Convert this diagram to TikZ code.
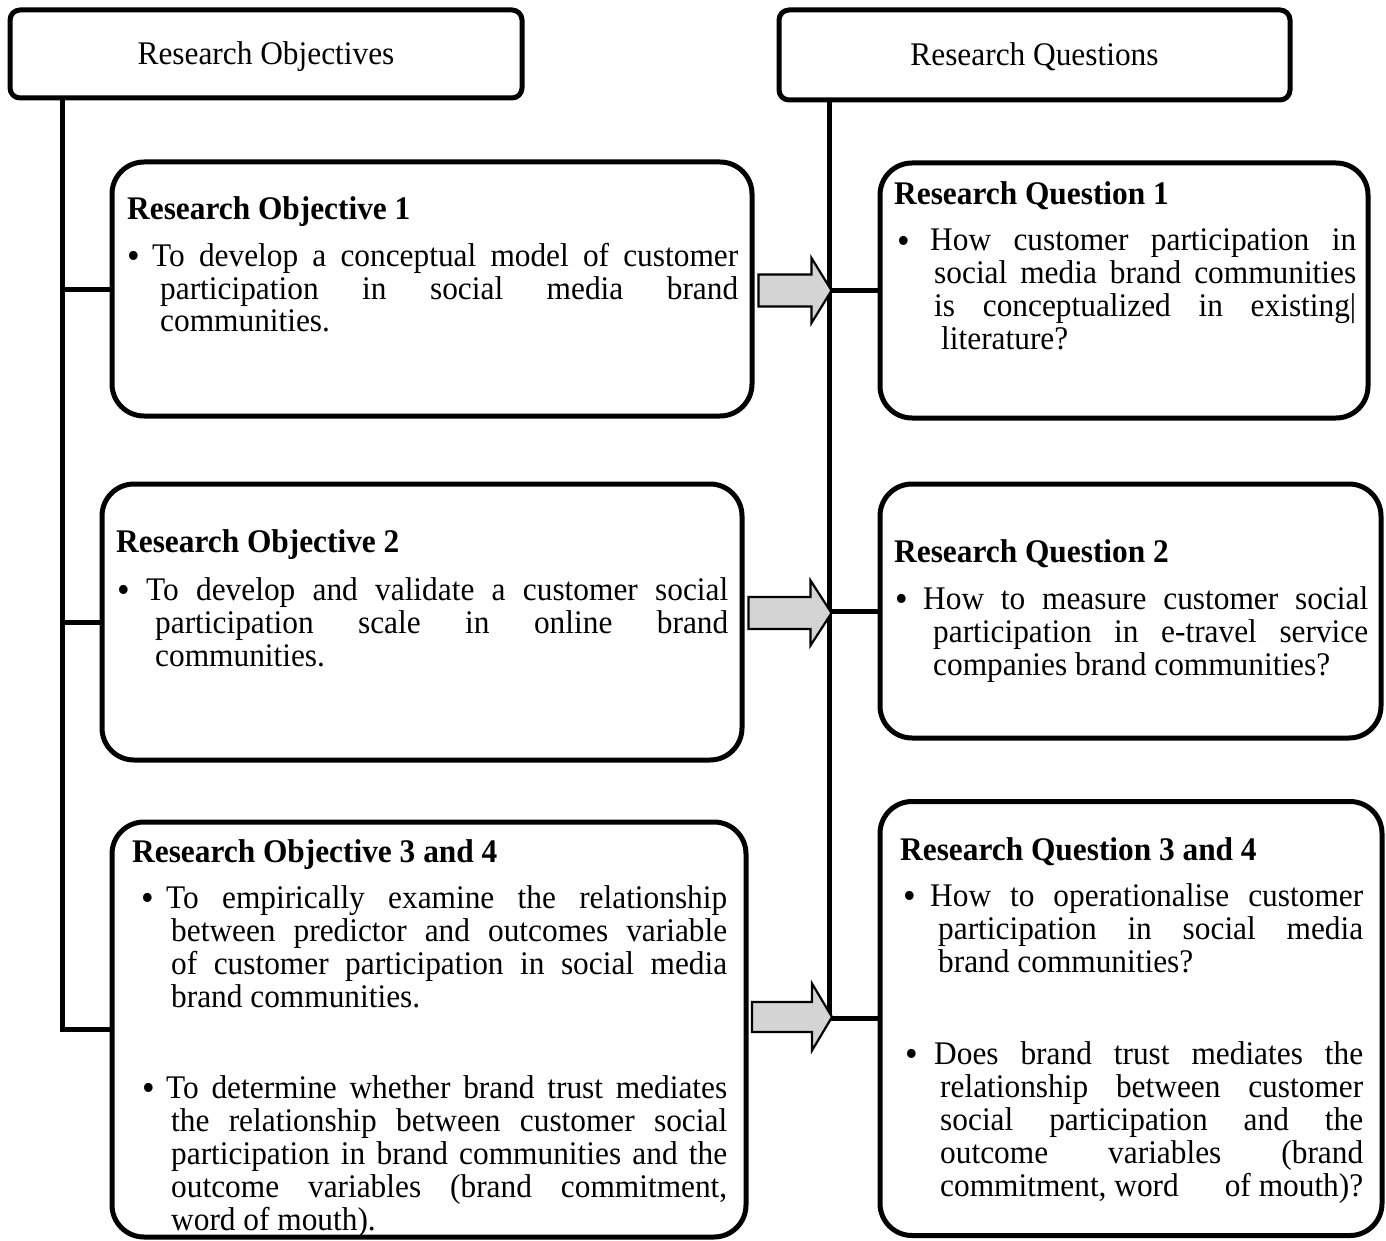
\documentclass[tikz,border=0pt]{standalone}
\usepackage{fontspec}
\setmainfont{Liberation Serif}[FakeStretch=0.95]
\usetikzlibrary{calc}

% one justified line of a given width
\newcommand\jus[2]{\makebox[#1][s]{#2}}
% bullet followed by the gap up to the text
\newcommand\bul[1]{\makebox[#1][l]{\raisebox{-2.5pt}{\scalebox{1.15}{\textbullet}}}}
% indentation of a continuation line
\newcommand\ind[1]{\hspace*{#1}}
% stacked lines with a fixed line pitch; the node's baseline is the first line's
\newcommand\lines[1]{\vtop{\baselineskip=33pt\lineskiplimit=-100pt #1}}
% text moved down without changing its box
\newcommand\dropby[2]{\raisebox{-#1}[\height][\depth]{#2}}

\begin{document}
\begin{tikzpicture}[x=1pt,y=-1pt,
  font=\fontsize{33}{33}\selectfont,
  headbox/.style={draw, line width=5pt, rounded corners=10pt, inner sep=0pt},
  itembox/.style={draw, line width=5pt, rounded corners=32pt, inner sep=0pt},
  wire/.style={line width=5pt, line join=miter},
  txt/.style={inner sep=0pt, anchor=base west},
  arrowshape/.style={draw, line width=2.2pt, fill=black!17, line join=miter}]

\useasboundingbox (0,0) rectangle (1386,1241);

% header boxes
\node[headbox, minimum width=512pt, minimum height=88pt] (rotop) at (266,54) {\dropby{3pt}{Research Objectives}};
\node[headbox, minimum width=511pt, minimum height=90pt] (rqtop) at (1034.5,55) {\dropby{2pt}{Research Questions}};

% objective boxes
\node[itembox, minimum width=640pt, minimum height=254pt] (ro1) at (432,289) {};
\node[itembox, minimum width=640pt, minimum height=276pt] (ro2) at (422,622) {};
\node[itembox, minimum width=634pt, minimum height=415pt] (ro3) at (429,1029.5) {};

% question boxes
\node[itembox, minimum width=488pt, minimum height=255pt] (rq1) at (1124,290.5) {};
\node[itembox, minimum width=501pt, minimum height=254pt] (rq2) at (1130.5,611) {};
\node[itembox, minimum width=502pt, minimum height=434pt] (rq3) at (1131,1018.5) {};

% spines and branches
\coordinate (lsp) at (62,0);
\coordinate (rsp) at (829,0);
\draw[wire] (lsp |- rotop.south) -- (lsp |- ro3.west) -- (ro3.west);
\draw[wire] (lsp |- ro1.west) -- (ro1.west);
\draw[wire] (lsp |- ro2.west) -- (ro2.west);
\draw[wire] (rsp |- rqtop.south) -- (rsp |- rq3.west) -- (rq3.west);
\draw[wire] (rsp |- rq1.west) -- (rq1.west);
\draw[wire] (rsp |- rq2.west) -- (rq2.west);

% block arrows from objectives to questions
\coordinate (tip1) at ($(rsp |- rq1.west)+(2.5,0)$);
\coordinate (tip2) at ($(rsp |- rq2.west)+(2.5,2)$);
\coordinate (tip3) at ($(rsp |- rq3.west)+(3,-1.5)$);
\draw[arrowshape] (tip1) -- ++(-20,-32.5) -- ++(0,16.5) -- ++(-53,0) -- ++(0,32) -- ++(53,0) -- ++(0,16.5) -- cycle;
\draw[arrowshape] (tip2) -- ++(-21,-32.5) -- ++(0,16.5) -- ++(-62,0) -- ++(0,32) -- ++(62,0) -- ++(0,16.5) -- cycle;
\draw[arrowshape] (tip3) -- ++(-20,-33.5) -- ++(0,18.5) -- ++(-60,0) -- ++(0,30) -- ++(60,0) -- ++(0,18.5) -- cycle;

% objective texts
\node[txt] (ro1t) at (127,220) {\bfseries Research Objective 1};
\node[txt] (ro1a) at (127,266) {\lines{%
  \hbox{\bul{25pt}\jus{586pt}{To develop a conceptual model of customer}}
  \hbox{\ind{33pt}\jus{578pt}{participation in social media brand}}
  \hbox{\ind{33pt}communities.}}};

\node[txt] (ro2t) at (116,552) {\bfseries Research Objective 2};
\node[txt] (ro2a) at (117,600) {\lines{%
  \hbox{\bul{29pt}\jus{582pt}{To develop and validate a customer social}}
  \hbox{\ind{38pt}\jus{573pt}{participation scale in online brand}}
  \hbox{\ind{38pt}communities.}}};

\node[txt] (ro3t) at (132,862) {\bfseries Research Objective 3 and 4};
\node[txt] (ro3a) at (141,908) {\lines{%
  \hbox{\bul{25pt}\jus{561pt}{To empirically examine the relationship}}
  \hbox{\ind{30pt}\jus{556pt}{between predictor and outcomes variable}}
  \hbox{\ind{30pt}\jus{556pt}{of customer participation in social media}}
  \hbox{\ind{30pt}brand communities.}}};
\node[txt] (ro3b) at (142,1098) {\lines{%
  \hbox{\bul{24pt}\jus{561pt}{To determine whether brand trust mediates}}
  \hbox{\ind{29pt}\jus{556pt}{the relationship between customer social}}
  \hbox{\ind{29pt}\jus{556pt}{participation in brand communities and the}}
  \hbox{\ind{29pt}\jus{556pt}{outcome variables (brand commitment,}}
  \hbox{\ind{29pt}word of mouth).}}};

% question texts
\node[txt] (rq1t) at (894,205) {\bfseries Research Question 1};
\node[txt] (rq1a) at (897,251) {\lines{%
  \hbox{\bul{33pt}\jus{426pt}{How customer participation in}}
  \hbox{\ind{37pt}\jus{422pt}{social media brand communities}}
  \hbox{\ind{37pt}\jus{422pt}{is conceptualized in existing|}}
  \hbox{\ind{44pt}literature?}}};

\node[txt] (rq2t) at (894,562) {\bfseries Research Question 2};
\node[txt] (rq2a) at (895,609) {\lines{%
  \hbox{\bul{28pt}\jus{445pt}{How to measure customer social}}
  \hbox{\ind{38pt}\jus{435pt}{participation in e-travel service}}
  \hbox{\ind{38pt}companies brand communities?}}};

\node[txt] (rq3t) at (900,860) {\bfseries Research Question 3 and 4};
\node[txt] (rq3a) at (903,906) {\lines{%
  \hbox{\bul{27pt}\jus{433pt}{How to operationalise customer}}
  \hbox{\ind{35pt}\jus{425pt}{participation in social media}}
  \hbox{\ind{35pt}brand communities?}}};
\node[txt] (rq3b) at (905,1064) {\lines{%
  \hbox{\bul{29pt}\jus{429pt}{Does brand trust mediates the}}
  \hbox{\ind{35pt}\jus{423pt}{relationship between customer}}
  \hbox{\ind{35pt}\jus{423pt}{social participation and the}}
  \hbox{\ind{35pt}\jus{423pt}{outcome variables (brand}}
  \hbox{\ind{35pt}\makebox[423pt][l]{commitment, word\hfill of mouth)?}}}};
\end{tikzpicture}
\end{document}
